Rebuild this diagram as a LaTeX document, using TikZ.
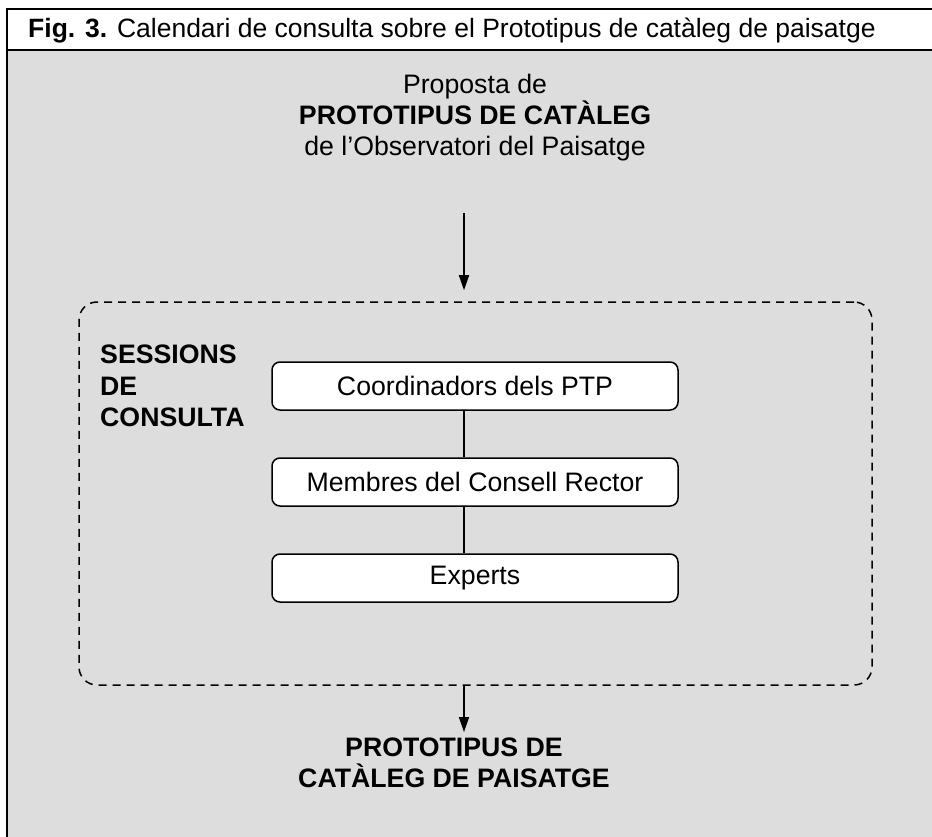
\documentclass[tikz,border=0pt]{standalone}
\usepackage{fontspec}
\setmainfont{Liberation Sans}
\usetikzlibrary{arrows.meta}
\definecolor{bggray}{RGB}{221,221,221}
\begin{document}
\begin{tikzpicture}[x=1pt,y=-1pt,
  txt/.style={inner sep=0pt,font=\fontsize{26.7}{31}\selectfont},
  ttl/.style={inner sep=0pt,font=\fontsize{26.5}{31}\selectfont},
  stage/.style={draw=black,line width=1.5pt,fill=white,rounded corners=8pt,
    minimum width=406pt,minimum height=48pt,inner sep=0pt,font=\fontsize{26.7}{31}\selectfont},
  sessbox/.style={draw=black,line width=1.5pt,dash pattern=on 8pt off 6pt,rounded corners=18pt,
    minimum width=793pt,minimum height=383pt,inner sep=0pt},
  conn/.style={line width=1.5pt},
  arr/.style={line width=1.5pt,-{Triangle[width=10pt,length=15pt]}}
]
\useasboundingbox (0,0) rectangle (932,837);
\fill[white] (0,0) rectangle (932,837);
\fill[bggray] (7,50) rectangle (932,837);
\draw[line width=2pt] (936,9) -- (7,9) -- (7,840);
\draw[line width=2pt] (7,50) -- (936,50);
\node[ttl,anchor=base west] (title) at (28,38) {\textbf{Fig. 3.} Calendari de consulta sobre el Prototipus de catàleg de paisatge};

\node[txt,align=center] (prop) at (475,118) {Proposta de\\\textbf{PROTOTIPUS DE CATÀLEG}\\de l’Observatori del Paisatge};

\coordinate (cx) at (464,0);
\coordinate (a1s) at (464,213);

\node[sessbox] (sess) at (475.5,493.5) {};
\node[txt,align=left,anchor=west,font=\fontsize{26.7}{31.5}\selectfont\bfseries] (lab) at (100,386) {SESSIONS\\DE\\CONSULTA};

\node[stage] (b1) at (475,386) {Coordinadors dels PTP};
\node[stage] (b2) at (475,482) {Membres del Consell Rector};
\node[stage] (b3) at (475,578) {Experts};

\draw[conn] (b1.south -| cx) -- (b2.north -| cx);
\draw[conn] (b2.south -| cx) -- (b3.north -| cx);

\node[txt,align=center,font=\fontsize{26.7}{30.5}\selectfont\bfseries] (res) at (454,763) {PROTOTIPUS DE\\CATÀLEG DE PAISATGE};

\draw[arr,shorten >=11pt] (a1s) -- (sess.north -| cx);
\draw[arr,shorten >=6pt] (sess.south -| cx) -- (res.north -| cx);
\end{tikzpicture}
\end{document}
